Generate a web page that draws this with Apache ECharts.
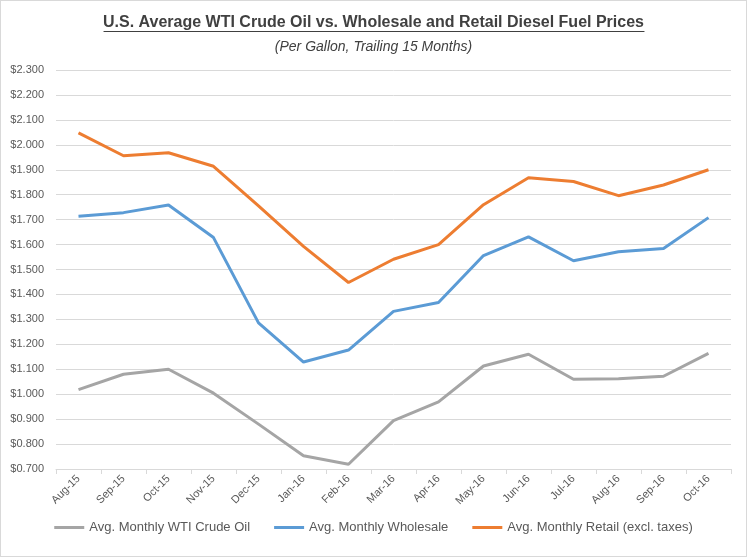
<!DOCTYPE html>
<html>
<head>
<meta charset="utf-8">
<script src="https://cdn.jsdelivr.net/npm/echarts@6/dist/echarts.min.js"></script>
<style>
html,body{margin:0;padding:0;background:#fff;}
#frame{position:absolute;left:0;top:0;width:745px;height:555px;border:1px solid #d9d9d9;}
#chart{width:745px;height:555px;}
</style>
</head>
<body>
<div id="frame"><div id="chart"></div></div>
<script>
var categories = ['Aug-15','Sep-15','Oct-15','Nov-15','Dec-15','Jan-16','Feb-16','Mar-16','Apr-16','May-16','Jun-16','Jul-16','Aug-16','Sep-16','Oct-16'];
var wtiCrude = [1.018,1.080,1.100,1.004,0.880,0.753,0.719,0.894,0.969,1.113,1.160,1.060,1.062,1.072,1.164];
var wholesale = [1.714,1.728,1.759,1.628,1.286,1.129,1.177,1.332,1.368,1.556,1.631,1.535,1.571,1.584,1.708];
var retail = [2.048,1.956,1.968,1.914,1.755,1.593,1.448,1.541,1.600,1.760,1.868,1.853,1.796,1.839,1.900];
var seriesNames = ['Avg. Monthly WTI Crude Oil','Avg. Monthly Wholesale','Avg. Monthly Retail (excl. taxes)'];
var titleText = 'U.S. Average WTI Crude Oil vs. Wholesale and Retail Diesel Fuel Prices';
var subtitleText = '(Per Gallon, Trailing 15 Months)';

var FONT = '"Liberation Sans", Arial, sans-serif';
var titleFontSize = 16;
var cvs = document.createElement('canvas').getContext('2d');
cvs.font = 'bold ' + titleFontSize + 'px ' + FONT;
var tw = cvs.measureText(titleText).width;
var cx = 373;

var chart = echarts.init(document.getElementById('chart'));
var colors = ['#a5a5a5','#5b9bd5','#ed7d31'];
function mk(name, data, c){
  return {name:name,type:'line',data:data,symbol:'none',smooth:false,
    lineStyle:{width:3,color:c},itemStyle:{color:c},emphasis:{disabled:true}};
}
chart.setOption({
  animation:false,
  color:colors,
  title:[
    {text:titleText,left:'center',top:9,textStyle:{fontFamily:FONT,fontSize:titleFontSize,fontWeight:'bold',color:'#404040'}},
    {text:subtitleText,left:'center',top:34,textStyle:{fontFamily:FONT,fontSize:14,fontStyle:'italic',fontWeight:'normal',color:'#404040'}}
  ],
  graphic:[{type:'line',shape:{x1:cx-tw/2,y1:30.5,x2:cx+tw/2,y2:30.5},style:{stroke:'#404040',lineWidth:1.2},silent:true}],
  grid:{left:55,right:15,top:69,bottom:87,containLabel:false},
  legend:{bottom:17,left:'center',icon:'rect',itemWidth:30,itemHeight:3,itemGap:24,
    textStyle:{fontFamily:FONT,fontSize:13,color:'#595959'},data:seriesNames},
  xAxis:{type:'category',data:categories,boundaryGap:true,
    axisLine:{lineStyle:{color:'#d9d9d9'}},axisTick:{show:true,lineStyle:{color:'#d9d9d9'},length:5},
    axisLabel:{rotate:45,interval:0,fontFamily:FONT,fontSize:11,color:'#595959',margin:8}},
  yAxis:{type:'value',min:0.7,max:2.3,interval:0.1,
    axisLine:{show:false},axisTick:{show:false},
    splitLine:{lineStyle:{color:'#d9d9d9',width:1}},
    axisLabel:{formatter:function(v){return '$'+v.toFixed(3);},fontFamily:FONT,fontSize:11,color:'#595959',margin:12}},
  series:[mk(seriesNames[0],wtiCrude,colors[0]),mk(seriesNames[1],wholesale,colors[1]),mk(seriesNames[2],retail,colors[2])]
});
</script>
</body>
</html>
